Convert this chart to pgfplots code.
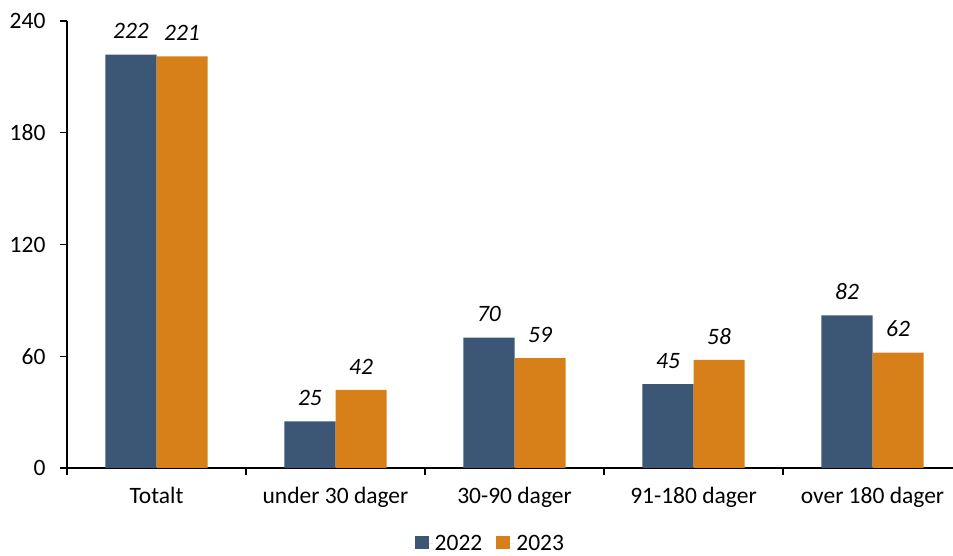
\documentclass[border=0pt]{standalone}
\usepackage{pgfplots}
\pgfplotsset{compat=1.18}
\usepackage{fontspec}
\setmainfont{Carlito}
\definecolor{barblue}{RGB}{59,87,117}
\definecolor{barorange}{RGB}{215,127,24}
\begin{document}
\begin{tikzpicture}
\begin{axis}[
  scale only axis,
  width=895pt, height=447pt,
  font=\fontsize{23.5}{28}\selectfont,
  /pgf/number format/assume math mode=true,
  ybar=0pt, bar width=0.285,
  xmin=-0.5, xmax=4.5,
  ymin=0, ymax=240,
  ytick={0,60,120,180,240},
  xtick={-0.5,0.5,1.5,2.5,3.5,4.5},
  x tick label as interval,
  xticklabels={Totalt,under 30 dager,30-90 dager,91-180 dager,over 180 dager},
  axis x line*=bottom, axis y line*=left,
  axis line style={line width=1.4pt, -},
  tick style={line width=1.4pt, black},
  tick align=outside,
  major tick length=7pt,
  x tick label style={yshift=-9pt},
  y tick label style={xshift=-11pt},
  nodes near coords,
  every node near coord/.append style={font=\fontsize{23.5}{28}\selectfont\itshape, yshift=12pt},
  legend style={draw=none, at={(0.473,-0.14)}, anchor=north, legend columns=2,
    font=\fontsize{23.5}{28}\selectfont,
    /tikz/every even column/.append style={column sep=12pt}},
  legend image code/.code={%
    \fill[#1] (0pt,-6pt) rectangle (14pt,7pt);
    \path (0pt,0pt) -- (18pt,0pt);},
]
\addplot[fill=barblue, draw=none] coordinates {(0,222) (1,25) (2,70) (3,45) (4,82)};
\addplot[fill=barorange, draw=none] coordinates {(0,221) (1,42) (2,59) (3,58) (4,62)};
\legend{2022,2023}
\end{axis}
\pgfresetboundingbox
\useasboundingbox ([shift={(-67pt,-88pt)}]current axis.south west) rectangle ([shift={(886pt,21pt)}]current axis.north west);
\end{tikzpicture}
\end{document}
